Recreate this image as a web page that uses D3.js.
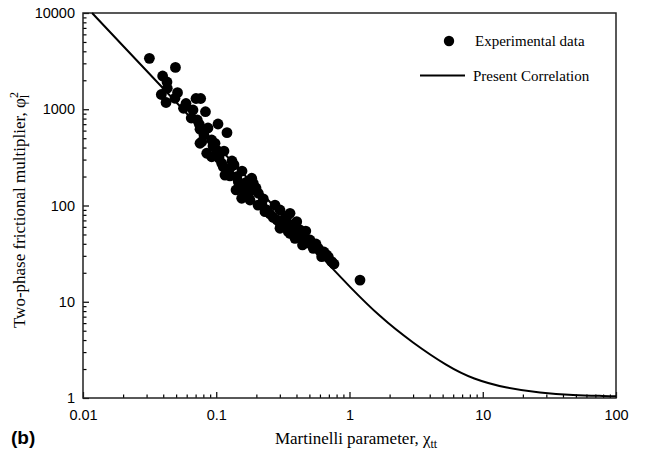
<!DOCTYPE html>
<html>
<head>
<meta charset="utf-8">
<script src="https://cdn.jsdelivr.net/npm/d3@7"></script>
<style>
  body { margin: 0; background: #fff; }
  svg { display: block; }
</style>
</head>
<body>
<div id="vis"></div>
<script>
// Martinelli parameter (x) vs two-phase multiplier (y)
const expX = [0.0315, 0.0494, 0.0396, 0.0427, 0.0429, 0.0387, 0.0512, 0.0420, 0.0490, 0.0593,
  0.0568, 0.0705, 0.0764, 0.0830, 0.0649, 0.0721, 0.0746, 0.1031, 0.1204, 0.0755,
  0.0809, 0.0924, 0.0778, 0.0755, 0.0979, 0.0848, 0.1008, 0.1143, 0.0924, 0.1099,
  0.1313, 0.1129, 0.1231, 0.1163, 0.1561, 0.1424, 0.1845, 0.1464, 0.1692, 0.1897,
  0.1643, 0.1845, 0.1740, 0.1643, 0.1552, 0.2069, 0.2255, 0.1792, 0.2322, 0.2391,
  0.2760, 0.2680, 0.3008, 0.3008, 0.3379, 0.3577, 0.3379, 0.3008, 0.3473, 0.4016,
  0.4251, 0.4699, 0.3577, 0.3899, 0.4128, 0.5052, 0.4439, 0.5348, 0.5832, 0.6004,
  0.6183, 0.6745, 0.6934, 0.7352, 0.7650, 1.199, 0.0945, 0.1049, 0.1268, 0.1359,
  0.1508, 0.1988, 0.2058, 0.2205, 0.2532, 0.2857, 0.3170, 0.3703, 0.3899, 0.4477,
  0.4798, 0.5605, 0.6437, 0.0867, 0.0669, 0.1268, 0.1407];
const expY = [3380, 2720, 2216, 1919, 1651, 1423, 1486, 1175, 1300, 1147,
  1023, 1293, 1293, 943, 811, 773, 698, 703, 571, 619,
  540, 479, 460, 443, 443, 349, 377, 368, 321, 274,
  290, 253, 224, 207, 228, 199, 192, 177, 175, 170,
  151, 145, 123, 134, 119, 134, 117, 114, 86.2, 89.8,
  101, 75.1, 89.8, 65.8, 76.5, 83.0, 59.8, 58.0, 53.4, 67.9,
  55.7, 54.3, 51.4, 45.6, 49.4, 43.8, 38.9, 35.9, 35.9, 33.7,
  29.4, 30.6, 29.2, 26.1, 24.7, 16.8, 415, 311, 245, 264,
  159, 152, 101, 101, 81.6, 70.7, 70.7, 62.7, 58.4, 46.0,
  40.8, 39.8, 32.9, 639, 982, 203, 145];

// present correlation
const corrX = [0.0117, 0.02, 0.0398, 0.1, 0.3, 0.739, 0.958, 1.69, 2.99, 5.39, 8.45, 15.2, 26.9, 47.5, 85.5, 100];
const corrY = [10000, 4550, 1663, 425, 84.6, 22.4, 15.3, 6.94, 3.73, 2.15, 1.57, 1.26, 1.13, 1.07, 1.05, 1.04];

const xTicks = [0.01, 0.1, 1, 10, 100];
const xTickLabels = ["0.01", "0.1", "1", "10", "100"];
const yTicks = [1, 10, 100, 1000, 10000];
const yTickLabels = ["1", "10", "100", "1000", "10000"];

const legendLabels = ["Experimental data", "Present Correlation"];

function drawChart(){
  const width = 645, height = 456;
  const margin = {left: 83, right: 29, top: 13, bottom: 58};
  const sans = "'Liberation Sans', Arial, sans-serif";
  const serif = "'Liberation Serif', 'Times New Roman', serif";

  const svg = d3.select("#vis")
    .append("svg")
    .attr("width", width)
    .attr("height", height)
    .attr("viewBox", [0, 0, width, height]);

  const x = d3.scaleLog()
    .domain([0.01, 100])
    .range([margin.left, width - margin.right]);
  const y = d3.scaleLog()
    .domain([1, 10000])
    .range([height - margin.bottom, margin.top]);

  // minor ticks 2..9 in every decade
  const minor = (dom) => {
    const out = [];
    for (let p = Math.log10(dom[0]); p < Math.log10(dom[1]); p++)
      for (let k = 2; k <= 9; k++) out.push(k * Math.pow(10, p));
    return out;
  };

  const xMinor = svg.append("g")
    .attr("transform", `translate(0, ${height - margin.bottom})`)
    .call(d3.axisBottom(x).tickValues(minor(x.domain())).tickSize(-3.5).tickFormat(""));
  const xMajor = svg.append("g")
    .attr("transform", `translate(0, ${height - margin.bottom})`)
    .call(d3.axisBottom(x).tickValues(xTicks).tickSize(-6).tickPadding(12)
      .tickFormat((d, i) => xTickLabels[i]));

  const yMinor = svg.append("g")
    .attr("transform", `translate(${margin.left}, 0)`)
    .call(d3.axisLeft(y).tickValues(minor(y.domain())).tickSize(-3.5).tickFormat(""));
  const yMajor = svg.append("g")
    .attr("transform", `translate(${margin.left}, 0)`)
    .call(d3.axisLeft(y).tickValues(yTicks).tickSize(-6).tickPadding(8)
      .tickFormat((d, i) => yTickLabels[i]));

  [xMinor, xMajor, yMinor, yMajor].forEach(g => {
    g.select(".domain").remove();
    g.selectAll("line").attr("stroke", "#000").attr("stroke-width", 1.2);
    g.selectAll("text")
      .style("font-family", sans)
      .style("font-size", "14.5px")
      .attr("fill", "#000");
  });

  // frame
  svg.append("rect")
    .attr("x", margin.left)
    .attr("y", margin.top)
    .attr("width", width - margin.left - margin.right)
    .attr("height", height - margin.top - margin.bottom)
    .attr("fill", "none")
    .attr("stroke", "#222")
    .attr("stroke-width", 1.5);

  // experimental points
  const pts = expX.map((d, i) => [d, expY[i]]);
  svg.append("g")
    .selectAll("circle")
    .data(pts)
    .join("circle")
    .attr("cx", d => x(d[0]))
    .attr("cy", d => y(d[1]))
    .attr("r", 5.4)
    .attr("fill", "#000");

  // correlation curve (basis spline smooths the traced points)
  const corr = corrX.map((d, i) => [d, corrY[i]]);
  svg.append("path")
    .datum(corr)
    .attr("fill", "none")
    .attr("stroke", "#000")
    .attr("stroke-width", 2)
    .attr("d", d3.line().x(d => x(d[0])).y(d => y(d[1])).curve(d3.curveBasis));

  // legend
  const lg = svg.append("g");
  lg.append("circle").attr("cx", 449).attr("cy", 41).attr("r", 5.2).attr("fill", "#000");
  lg.append("line").attr("x1", 420).attr("x2", 465).attr("y1", 75.5).attr("y2", 75.5)
    .attr("stroke", "#000").attr("stroke-width", 2);
  lg.selectAll("text")
    .data(legendLabels)
    .join("text")
    .attr("x", (d, i) => i === 0 ? 475 : 473)
    .attr("y", (d, i) => i === 0 ? 41 : 75.5)
    .attr("dy", "0.35em")
    .style("font-family", serif)
    .style("font-size", "15px")
    .text(d => d);

  // axis titles
  const xt = svg.append("text")
    .attr("x", 356)
    .attr("y", 444)
    .attr("text-anchor", "middle")
    .style("font-family", serif)
    .style("font-size", "17px");
  xt.append("tspan").text("Martinelli parameter, χ");
  xt.append("tspan").attr("dy", 4).style("font-size", "12px").text("tt");

  const yt = svg.append("text")
    .attr("transform", `translate(25, 210) rotate(-90)`)
    .attr("text-anchor", "middle")
    .style("font-family", serif)
    .style("font-size", "17px");
  yt.append("tspan").text("Two-phase frictional multiplier, φ");
  yt.append("tspan").attr("dy", 4).style("font-size", "12px").text("l");
  yt.append("tspan").attr("dy", -11).attr("dx", -3).style("font-size", "12px").text("2");

  svg.append("text")
    .attr("x", 11)
    .attr("y", 444)
    .style("font-family", sans)
    .style("font-size", "19px")
    .style("font-weight", "bold")
    .text("(b)");
}

drawChart();
</script>
</body>
</html>
